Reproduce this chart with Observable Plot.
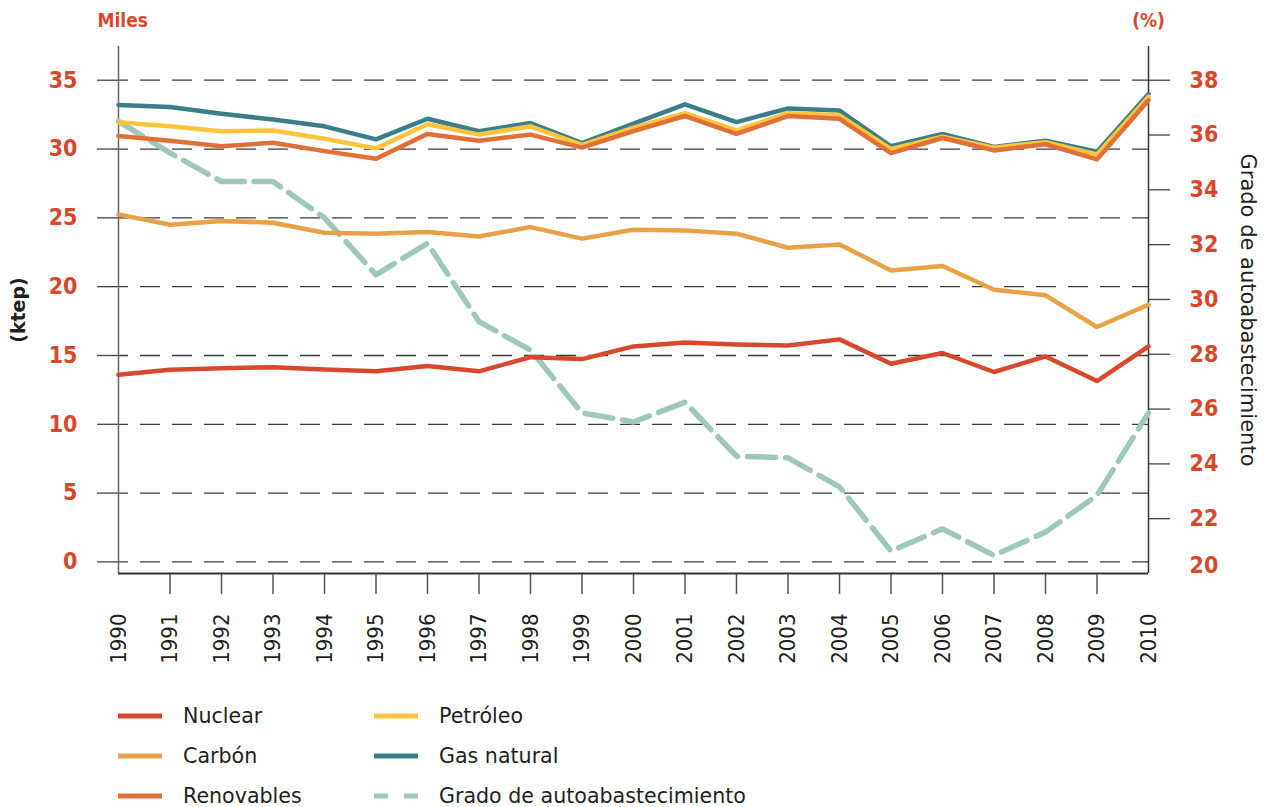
<!DOCTYPE html>
<html>
<head>
<meta charset="utf-8">
<script src="https://cdn.jsdelivr.net/npm/d3@7"></script>
<script src="https://cdn.jsdelivr.net/npm/@observablehq/plot@0.6"></script>
<style>
  html, body { margin: 0; padding: 0; background: #fff; }
  #wrap { position: relative; width: 1269px; height: 807px; overflow: hidden; }
  #legend { position: relative; width: 1269px; height: 127px; font-family: "DejaVu Sans", sans-serif; font-size: 20.6px; color: #231f20; }
  .item { position: absolute; display: flex; align-items: center; height: 30px; }
  .item span { margin-left: 21px; white-space: nowrap; }
</style>
</head>
<body>
<div id="wrap">
  <div id="chart"></div>
  <div id="legend"></div>
</div>
<script>
const years = [1990, 1991, 1992, 1993, 1994, 1995, 1996, 1997, 1998, 1999, 2000,
               2001, 2002, 2003, 2004, 2005, 2006, 2007, 2008, 2009, 2010];
const nuclear    = [13.6, 13.97, 14.08, 14.15, 13.99, 13.85, 14.23, 13.85, 14.88, 14.74, 15.66,
                    15.95, 15.8, 15.73, 16.17, 14.4, 15.18, 13.8, 14.93, 13.14, 15.66];
const carbon     = [25.25, 24.5, 24.77, 24.65, 23.92, 23.85, 23.97, 23.65, 24.33, 23.49, 24.14,
                    24.09, 23.85, 22.83, 23.07, 21.18, 21.5, 19.78, 19.37, 17.07, 18.69];
const renovables = [30.95, 30.6, 30.2, 30.45, 29.85, 29.3, 31.1, 30.6, 31.05, 30.1, 31.3,
                    32.4, 31.1, 32.4, 32.2, 29.7, 30.8, 29.9, 30.35, 29.25, 33.55];
const petroleo   = [31.95, 31.65, 31.3, 31.35, 30.75, 30.05, 31.8, 31.05, 31.65, 30.3, 31.55,
                    32.6, 31.35, 32.6, 32.45, 30.0, 30.9, 30.1, 30.5, 29.6, 33.8];
const gasNatural = [33.2, 33.05, 32.57, 32.14, 31.65, 30.7, 32.2, 31.29, 31.89, 30.44, 31.85,
                    33.25, 31.96, 32.95, 32.8, 30.2, 31.1, 30.15, 30.6, 29.8, 34.0];
const grado      = [36.5, 35.35, 34.3, 34.3, 32.98, 30.9, 32.05, 29.19, 28.15, 25.86, 25.53,
                    26.25, 24.28, 24.22, 23.16, 20.82, 21.63, 20.66, 21.51, 22.85, 25.86];

const leftTicks = [0, 5, 10, 15, 20, 25, 30, 35];
const rightTicks = [22, 24, 26, 28, 30, 32, 34, 36, 38];
const rightBottomTick = [20];
const innerYearTicks = years.slice(1, -1);

const seriesNames = ["Nuclear", "Carbón", "Renovables", "Petróleo", "Gas natural", "Grado de autoabastecimiento"];
const seriesColors = ["#d9482c", "#e8a145", "#e07038", "#fdc43c", "#397e8a", "#9ec8b8"];
const red = "#d9472b";
const dark = "#231f20";

// left scale domain; right axis (20..38) mapped onto it
const yMin = -0.84, yMax = 37.45;
const rMin = 20, rMax = 38, lAtRMax = 35;
const toLeft = g => yMin + (g - rMin) * (lAtRMax - yMin) / (rMax - rMin);
const fromLeft = v => rMin + (v - yMin) * (rMax - rMin) / (lAtRMax - yMin);

const mk = arr => years.map((year, i) => ({year, value: arr[i]}));

const labelFont = '"DejaVu Sans Condensed", "Liberation Sans Narrow", "DejaVu Sans", sans-serif';

const chart = Plot.plot({
  width: 1269,
  height: 680,
  marginLeft: 118,
  marginRight: 121,
  marginTop: 46,
  marginBottom: 107,
  x: {domain: [1990, 2010]},
  y: {domain: [yMin, yMax]},
  style: {fontFamily: '"DejaVu Sans", sans-serif', background: "#fff", color: dark, overflow: "visible"},
  marks: [
    Plot.ruleY(leftTicks, {stroke: "#3a3a3a", strokeWidth: 1.3, strokeDasharray: "20,12", strokeDashoffset: 10}),
    Plot.axisY({ticks: leftTicks, tickSize: 21, tickPadding: 20, tickFormat: d => String(d), label: null,
                stroke: "#444", strokeWidth: 1.3, fill: red, fontSize: 23, fontWeight: "bold", fontFamily: labelFont}),
    Plot.axisY({anchor: "right", ticks: rightTicks.map(toLeft), tickSize: 21, tickPadding: 20,
                tickFormat: v => String(Math.round(fromLeft(v))), label: null,
                stroke: "#444", strokeWidth: 1.3, fill: red, fontSize: 23, fontWeight: "bold", fontFamily: labelFont}),
    Plot.text(rightBottomTick, {y: d => toLeft(d), text: d => String(d), frameAnchor: "right", dx: 41, dy: -8,
                textAnchor: "start", fill: red, fontSize: 23, fontWeight: "bold", fontFamily: labelFont}),
    Plot.axisX({ticks: years, tickSize: 0, tickPadding: 40, tickRotate: -90, tickFormat: d => String(d), label: null,
                fill: dark, fontSize: 22, fontFamily: labelFont}),
    Plot.axisX({ticks: innerYearTicks, tickSize: 21, tickFormat: () => "", label: null, stroke: "#555", strokeWidth: 1.5}),
    Plot.ruleX([1990], {stroke: "#666", strokeWidth: 1.5}),
    Plot.ruleX([2010], {stroke: "#333", strokeWidth: 1.5}),
    Plot.ruleY([yMin], {stroke: "#333", strokeWidth: 1.8}),
    Plot.line(mk(grado), {x: "year", y: d => toLeft(d.value), stroke: seriesColors[5], strokeWidth: 5.5, strokeDasharray: "28,10"}),
    Plot.line(mk(carbon), {x: "year", y: "value", stroke: seriesColors[1], strokeWidth: 4.5}),
    Plot.line(mk(nuclear), {x: "year", y: "value", stroke: seriesColors[0], strokeWidth: 4.5}),
    Plot.line(mk(gasNatural), {x: "year", y: "value", stroke: seriesColors[4], strokeWidth: 4.5}),
    Plot.line(mk(petroleo), {x: "year", y: "value", stroke: seriesColors[3], strokeWidth: 4.5}),
    Plot.line(mk(renovables), {x: "year", y: "value", stroke: seriesColors[2], strokeWidth: 4.5}),
    Plot.text(["Miles"], {text: d => d, frameAnchor: "top-left", dx: -21, dy: -26, textAnchor: "start",
                lineAnchor: "middle", fill: red, fontSize: 19, fontWeight: "bold", fontFamily: labelFont}),
    Plot.text(["(%)"], {text: d => d, frameAnchor: "top-right", dy: -26, textAnchor: "middle",
                lineAnchor: "middle", fill: red, fontSize: 19, fontWeight: "bold", fontFamily: labelFont}),
    Plot.text(["(ktep)"], {text: d => d, frameAnchor: "left", dx: -100, rotate: -90, textAnchor: "middle",
                lineAnchor: "middle", fill: dark, fontSize: 19, fontWeight: "bold"}),
    Plot.text(["Grado de autoabastecimiento"], {text: d => d, frameAnchor: "right", dx: 99, rotate: 90,
                textAnchor: "middle", lineAnchor: "middle", fill: dark, fontSize: 21})
  ]
});
document.getElementById("chart").appendChild(chart);

// legend
const legend = document.getElementById("legend");
const legendCols = [118, 374];
const legendRows = [36, 76, 116];
seriesNames.forEach((name, i) => {
  const col = Math.floor(i / 3), row = i % 3;
  const div = document.createElement("div");
  div.className = "item";
  div.style.left = legendCols[col] + "px";
  div.style.top = (legendRows[row] - 15) + "px";
  const dashed = i === 5;
  div.innerHTML = `<svg width="44" height="8"><line x1="0" x2="44" y1="4" y2="4" stroke="${seriesColors[i]}" stroke-width="5" ${dashed ? 'stroke-dasharray="14,16"' : ''}/></svg><span>${name}</span>`;
  legend.appendChild(div);
});
</script>
</body>
</html>
